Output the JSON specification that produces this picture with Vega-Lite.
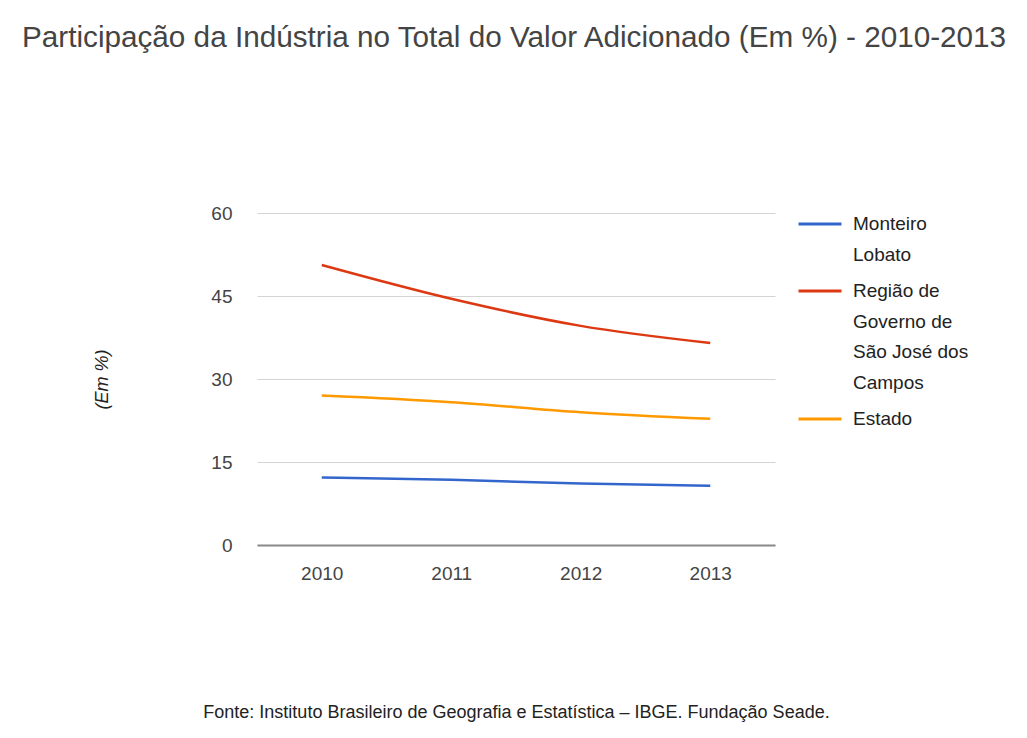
{
  "$schema": "https://vega.github.io/schema/vega-lite/v6.json",
  "width": 518,
  "height": 332,
  "autosize": "none",
  "padding": {"left": 257, "top": 213, "right": 252, "bottom": 193},
  "background": "white",
  "title": {
    "text": "Participação da Indústria no Total do Valor Adicionado (Em %) - 2010-2013",
    "anchor": "start",
    "frame": "group",
    "dx": -235,
    "offset": 127,
    "baseline": "alphabetic",
    "font": "Liberation Sans",
    "fontSize": 29.7,
    "fontWeight": "normal",
    "color": "#444444"
  },
  "data": {
    "values": [
      {"ano": "2010", "serie": "Monteiro Lobato", "valor": 12.2},
      {"ano": "2011", "serie": "Monteiro Lobato", "valor": 11.8},
      {"ano": "2012", "serie": "Monteiro Lobato", "valor": 11.1},
      {"ano": "2013", "serie": "Monteiro Lobato", "valor": 10.7},
      {"ano": "2010", "serie": "Região de Governo de São José dos Campos", "valor": 50.6},
      {"ano": "2011", "serie": "Região de Governo de São José dos Campos", "valor": 44.5},
      {"ano": "2012", "serie": "Região de Governo de São José dos Campos", "valor": 39.6},
      {"ano": "2013", "serie": "Região de Governo de São José dos Campos", "valor": 36.5},
      {"ano": "2010", "serie": "Estado", "valor": 27.0},
      {"ano": "2011", "serie": "Estado", "valor": 25.8},
      {"ano": "2012", "serie": "Estado", "valor": 24.0},
      {"ano": "2013", "serie": "Estado", "valor": 22.8}
    ]
  },
  "mark": {"type": "line", "interpolate": "monotone", "strokeWidth": 2.5},
  "encoding": {
    "x": {
      "field": "ano",
      "type": "ordinal",
      "scale": {"type": "point", "padding": 0.5},
      "axis": {
        "title": "Fonte: Instituto Brasileiro de Geografia e Estatística – IBGE. Fundação Seade.",
        "titleFont": "Liberation Sans",
        "titleFontSize": 18,
        "titleFontWeight": "normal",
        "titleColor": "#222222",
        "titlePadding": 120,
        "labelAngle": 0,
        "labelFont": "Liberation Sans",
        "labelFontSize": 19,
        "labelColor": "#444444",
        "labelPadding": 19,
        "ticks": false,
        "domain": true,
        "domainColor": "#888888",
        "domainWidth": 2,
        "grid": false
      }
    },
    "y": {
      "field": "valor",
      "type": "quantitative",
      "scale": {"domain": [0, 60], "nice": false},
      "axis": {
        "values": [0, 15, 30, 45, 60],
        "title": "(Em %)",
        "titleFont": "Liberation Sans",
        "titleFontSize": 18,
        "titleFontStyle": "italic",
        "titleFontWeight": "normal",
        "titleColor": "#222222",
        "titlePadding": 99,
        "labelFont": "Liberation Sans",
        "labelFontSize": 19,
        "labelColor": "#444444",
        "labelPadding": 25,
        "ticks": false,
        "domain": false,
        "grid": true,
        "gridColor": "#d4d4d4",
        "gridWidth": 1.2
      }
    },
    "color": {
      "field": "serie",
      "type": "nominal",
      "scale": {
        "domain": ["Monteiro Lobato", "Região de Governo de São José dos Campos", "Estado"],
        "range": ["#3366cc", "#dc3912", "#ff9900"]
      },
      "legend": {
        "title": null,
        "orient": "right",
        "offset": 22,
        "padding": 0,
        "symbolType": "stroke",
        "symbolSize": 1849,
        "symbolStrokeWidth": 3,
        "labelOffset": 10,
        "labelFont": "Liberation Sans",
        "labelFontSize": 19,
        "labelColor": "#222222",
        "labelLimit": 300,
        "rowPadding": 15,
        "labelExpr": "datum.label == 'Monteiro Lobato' ? ['Monteiro', 'Lobato'] : datum.label == 'Região de Governo de São José dos Campos' ? ['Região de', 'Governo de', 'São José dos', 'Campos'] : datum.label",
        "encode": {
          "symbols": {"update": {"y": {"value": 11}}},
          "labels": {"update": {"y": {"value": 11}, "lineHeight": {"value": 30.5}}}
        }
      }
    }
  },
  "config": {"view": {"stroke": null}}
}
